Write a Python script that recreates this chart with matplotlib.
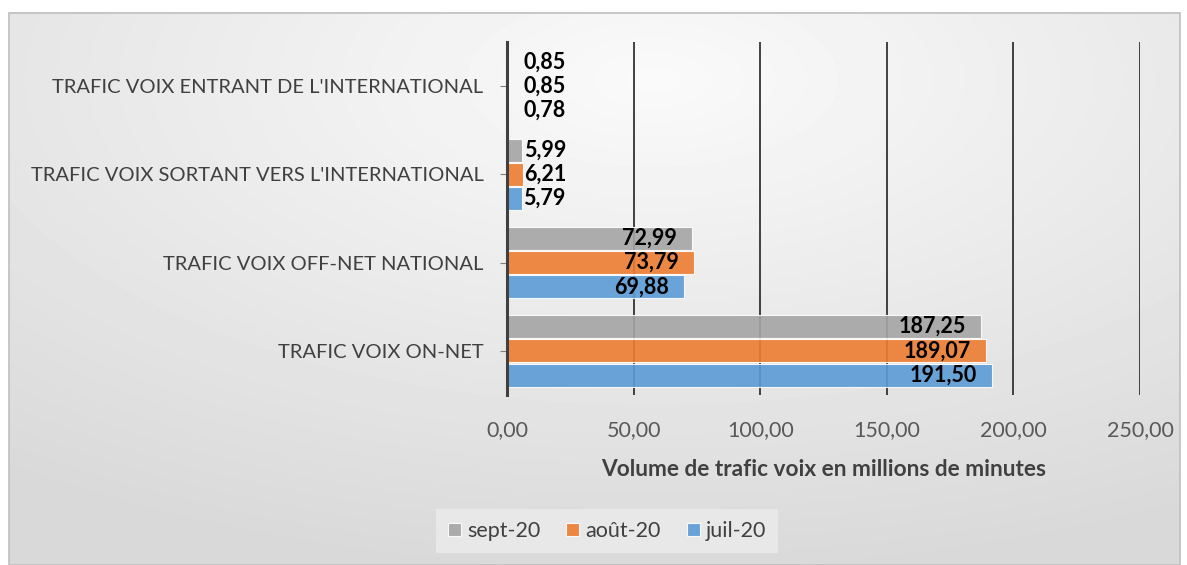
import numpy as np
import matplotlib
matplotlib.use("Agg")
import matplotlib.pyplot as plt
from matplotlib.patches import Rectangle
from matplotlib.ticker import FuncFormatter

plt.rcParams['font.family'] = ['Lato', 'DejaVu Sans']

# Données
categories = ["TRAFIC VOIX ON-NET", "TRAFIC VOIX OFF-NET NATIONAL",
              "TRAFIC VOIX SORTANT VERS L'INTERNATIONAL",
              "TRAFIC VOIX ENTRANT DE L'INTERNATIONAL"]
juil = [191.50, 69.88, 5.79, 0.78]
aout = [189.07, 73.79, 6.21, 0.85]
sept = [187.25, 72.99, 5.99, 0.85]
series_names = ["juil-20", "août-20", "sept-20"]
couleurs = ["#5b9bd5", "#ed7d31", "#a5a5a5"]

W, H = 1187, 565
fig = plt.figure(figsize=(W / 100, H / 100), dpi=100)
fig.patch.set_facecolor("white")

# Fond en dégradé dans le cadre
bg = fig.add_axes([9 / W, 0, 1171 / W, 553 / H], zorder=-10)
xx, yy = np.meshgrid(np.linspace(0, 1, 300), np.linspace(0, 1, 150))
r = np.sqrt(((xx - 0.55) / 0.9) ** 2 + ((yy - 0.12) / 0.9) ** 2)
r = np.clip(r, 0, 1)
bg.imshow(0.98 - 0.13 * r, cmap="gray", vmin=0, vmax=1, aspect="auto",
          extent=[0, 1, 0, 1], origin="upper", interpolation="bilinear")
bg.set_axis_off()
fig.patches.append(Rectangle((9 / W, 0.5 / H), 1171 / W, 552 / H,
                             transform=fig.transFigure, fill=False,
                             edgecolor="#bfbfbf", linewidth=1.2, zorder=5))

ax = fig.add_axes([507 / W, 1 - 395 / H, 633 / W, 353 / H])
ax.patch.set_alpha(0)

y = np.arange(len(categories))
h = 0.26
ecarts = [-0.275, 0, 0.275]
for vals, nom, c, d in zip([juil, aout, sept], series_names, couleurs, ecarts):
    ax.barh(y + d, vals, height=h, color=c, alpha=0.9, edgecolor="white",
            linewidth=0.8, label=nom, zorder=3)
    for yi, v in zip(y + d, vals):
        txt = f"{v:.2f}".replace(".", ",")
        if v < 10:
            ax.annotate(txt, (max(v, 5.8), yi), xytext=(1, 0),
                        textcoords="offset points", ha="left", va="center",
                        fontsize=15.5, fontweight="bold", color="black", zorder=4)
        else:
            ax.annotate(txt, (v, yi), xytext=(-11, 0), textcoords="offset points",
                        ha="right", va="center", fontsize=15.5,
                        fontweight="bold", color="black", zorder=4)

ax.set_xlim(0, 250)
ax.set_ylim(-0.5, 3.5)
ax.set_xticks(np.arange(0, 251, 50))
ax.xaxis.set_major_formatter(FuncFormatter(lambda v, p: f"{v:.2f}".replace(".", ",")))
ax.set_yticks(y)
ax.set_yticklabels(categories)
ax.grid(axis="x", color="#333333", linewidth=1.3, zorder=1)
ax.set_axisbelow(True)
for s in ["top", "right", "bottom"]:
    ax.spines[s].set_visible(False)
ax.spines["left"].set_color("#404040")
ax.spines["left"].set_linewidth(2.2)
ax.spines["left"].set_zorder(5)
ax.tick_params(axis="x", length=0, labelsize=15.5, labelcolor="#595959", pad=18)
ax.tick_params(axis="y", length=5, width=0.8, color="#7f7f7f",
               labelsize=14.5, labelcolor="#404040", pad=12)
ax.set_xlabel("Volume de trafic voix en millions de minutes", fontsize=16.3,
              fontweight="bold", color="#404040", labelpad=14)

handles, labels = ax.get_legend_handles_labels()
leg = fig.legend(handles[::-1], labels[::-1], loc="center",
                 bbox_to_anchor=(607 / W, 1 - 531 / H), ncol=3, frameon=True,
                 fontsize=15.5, handlelength=0.6, handleheight=0.6,
                 handletextpad=0.3, columnspacing=1.2, borderpad=0.55,
                 labelcolor="#404040")
leg.get_frame().set_facecolor("#ececec")
leg.get_frame().set_edgecolor("none")
leg.get_frame().set_boxstyle("square", pad=0)

fig.savefig("out.png", dpi=100)
